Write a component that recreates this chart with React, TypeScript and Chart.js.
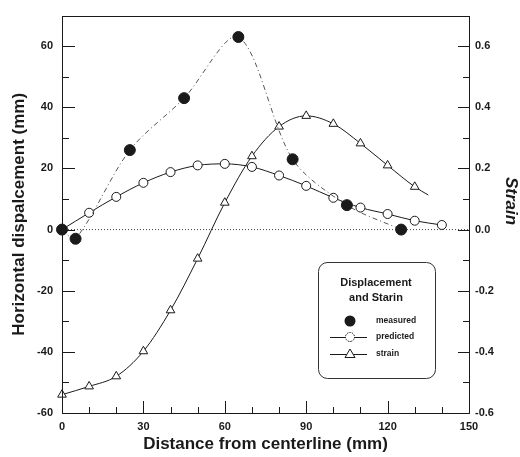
import React, { useEffect, useRef } from "react";
import { Chart, registerables } from "chart.js";

Chart.register(...registerables);

// ---- data ----
const measuredX = [0, 5, 25, 45, 65, 85, 105, 125];
const measuredY = [0, -3, 26, 43, 63, 23, 8, 0];

const predictedX = [0, 10, 20, 30, 40, 50, 60, 70, 80, 90, 100, 110, 120, 130, 140];
const predictedY = [0, 5.5, 10.7, 15.3, 18.8, 21, 21.5, 20.5, 17.7, 14.3, 10.4, 7.2, 5.1, 2.9, 1.5];

const strainX = [0, 10, 20, 30, 40, 50, 60, 70, 80, 90, 100, 110, 120, 130, 135];
const strainY = [-0.54, -0.513, -0.48, -0.398, -0.264, -0.095, 0.088, 0.24, 0.337, 0.372, 0.346, 0.282, 0.21, 0.14, 0.113];
const strainMarked = [true, true, true, true, true, true, true, true, true, true, true, true, true, true, false];

const zeroLineX = [0, 150];

const xMajorTicks = [0, 30, 60, 90, 120, 150];
const xMinorTicks = [10, 20, 40, 50, 70, 80, 100, 110, 130, 140];
const yMajorTicks = [-60, -40, -20, 0, 20, 40, 60];
const yMinorTicks = [-50, -30, -10, 10, 30, 50];
const y2MajorTicks = [-0.6, -0.4, -0.2, 0, 0.2, 0.4, 0.6];
const y2MinorTicks = [-0.5, -0.3, -0.1, 0.1, 0.3, 0.5];

const legendTitle = ["Displacement", "and Starin"];
const legendLabels = ["measured", "predicted", "strain"];
const rightTitle = "Strain";

const FONT = "'Liberation Sans', Arial, Helvetica, sans-serif";
const INK = "#1a1a1a";

const framePlugin = {
  id: "frameAndTicks",
  afterDatasetsDraw(chart: any) {
    const { ctx, chartArea, scales } = chart;
    const { left, right, top, bottom } = chartArea;
    ctx.save();
    ctx.strokeStyle = INK;
    ctx.lineWidth = 1;
    ctx.setLineDash([]);
    ctx.strokeRect(Math.round(left) + 0.5, Math.round(top) + 0.5, Math.round(right - left), Math.round(bottom - top));
    const vline = (px: number, len: number) => {
      const x = Math.round(px) + 0.5;
      ctx.beginPath();
      ctx.moveTo(x, bottom);
      ctx.lineTo(x, bottom - len);
      ctx.stroke();
    };
    xMajorTicks.forEach((v) => vline(scales.x.getPixelForValue(v), 12));
    xMinorTicks.forEach((v) => vline(scales.x.getPixelForValue(v), 6));
    const hl = (py: number, len: number) => {
      const y = Math.round(py) + 0.5;
      ctx.beginPath();
      ctx.moveTo(left, y);
      ctx.lineTo(left + len, y);
      ctx.stroke();
    };
    const hr = (py: number, len: number) => {
      const y = Math.round(py) + 0.5;
      ctx.beginPath();
      ctx.moveTo(right, y);
      ctx.lineTo(right - len, y);
      ctx.stroke();
    };
    yMajorTicks.forEach((v) => hl(scales.y.getPixelForValue(v), 13));
    yMinorTicks.forEach((v) => hl(scales.y.getPixelForValue(v), 7));
    y2MajorTicks.forEach((v) => hr(scales.y2.getPixelForValue(v), 11));
    y2MinorTicks.forEach((v) => hr(scales.y2.getPixelForValue(v), 6));
    ctx.restore();
  },
  afterDraw(chart: any) {
    const { ctx } = chart;
    ctx.save();
    // right axis title
    ctx.save();
    ctx.translate(511, 201);
    ctx.rotate(Math.PI / 2);
    ctx.fillStyle = INK;
    ctx.textAlign = "center";
    ctx.textBaseline = "middle";
    ctx.font = `italic bold 17px ${FONT}`;
    ctx.fillText(rightTitle, 0, 0);
    ctx.restore();
    // legend box
    const x0 = 318, y0 = 262, x1 = 435, y1 = 378, r = 9;
    ctx.strokeStyle = "#333";
    ctx.lineWidth = 1;
    ctx.beginPath();
    ctx.moveTo(x0 + r, y0 + 0.5);
    ctx.arcTo(x1 + 0.5, y0 + 0.5, x1 + 0.5, y1, r);
    ctx.arcTo(x1 + 0.5, y1 + 0.5, x0, y1 + 0.5, r);
    ctx.arcTo(x0 + 0.5, y1 + 0.5, x0 + 0.5, y0, r);
    ctx.arcTo(x0 + 0.5, y0 + 0.5, x1, y0 + 0.5, r);
    ctx.closePath();
    ctx.fillStyle = "#fff";
    ctx.fill();
    ctx.stroke();
    ctx.fillStyle = INK;
    ctx.textAlign = "center";
    ctx.textBaseline = "middle";
    ctx.font = `bold 11px ${FONT}`;
    ctx.fillText(legendTitle[0], 376, 283);
    ctx.fillText(legendTitle[1], 376, 298);
    const mx = 350, tx = 376;
    const rows = [321, 337, 354];
    ctx.font = `bold 8.5px ${FONT}`;
    ctx.textAlign = "left";
    legendLabels.forEach((t, i) => ctx.fillText(t, tx, rows[i]));
    // measured marker
    ctx.beginPath();
    ctx.arc(mx, rows[0], 5.5, 0, Math.PI * 2);
    ctx.fill();
    // predicted
    ctx.strokeStyle = INK;
    ctx.beginPath();
    ctx.moveTo(330, rows[1] + 0.5);
    ctx.lineTo(367, rows[1] + 0.5);
    ctx.stroke();
    ctx.beginPath();
    ctx.arc(mx, rows[1], 4.5, 0, Math.PI * 2);
    ctx.fillStyle = "#fff";
    ctx.fill();
    ctx.setLineDash([1.5, 1]);
    ctx.stroke();
    ctx.setLineDash([]);
    // strain
    ctx.beginPath();
    ctx.moveTo(330, rows[2] + 0.5);
    ctx.lineTo(367, rows[2] + 0.5);
    ctx.stroke();
    ctx.beginPath();
    ctx.moveTo(mx, rows[2] - 5);
    ctx.lineTo(mx + 5, rows[2] + 3.5);
    ctx.lineTo(mx - 5, rows[2] + 3.5);
    ctx.closePath();
    ctx.fill();
    ctx.stroke();
    ctx.restore();
  },
};

export default function App() {
  const ref = useRef<HTMLCanvasElement | null>(null);
  useEffect(() => {
    document.body.style.margin = "0";
    if (!ref.current) return;
    Chart.defaults.font.family = FONT;
    Chart.defaults.color = INK;
    const chart = new Chart(ref.current, {
      type: "line",
      data: {
        datasets: [
          {
            label: "zero",
            order: 3,
            data: zeroLineX.map((x) => ({ x, y: 0 })),
            borderColor: "#444",
            borderWidth: 1,
            borderDash: [1, 2],
            pointRadius: 0,
            yAxisID: "y",
          },
          {
            label: "strain",
            order: 2,
            data: strainX.map((x, i) => ({ x, y: strainY[i] })),
            borderColor: INK,
            borderWidth: 1,
            cubicInterpolationMode: "monotone",
            pointStyle: "triangle",
            pointRadius: strainMarked.map((m) => (m ? 5 : 0)),
            pointBackgroundColor: "#fff",
            pointBorderColor: INK,
            pointBorderWidth: 1,
            clip: false,
            yAxisID: "y2",
          },
          {
            label: "predicted",
            order: 1,
            data: predictedX.map((x, i) => ({ x, y: predictedY[i] })),
            borderColor: INK,
            borderWidth: 1,
            cubicInterpolationMode: "monotone",
            pointStyle: "circle",
            pointRadius: 4.5,
            pointBackgroundColor: "#fff",
            pointBorderColor: INK,
            pointBorderWidth: 1,
            clip: false,
            yAxisID: "y",
          },
          {
            label: "measured",
            order: 0,
            data: measuredX.map((x, i) => ({ x, y: measuredY[i] })),
            borderColor: "#555",
            borderWidth: 1,
            borderDash: [5, 3, 1, 3],
            tension: 0.3,
            pointStyle: "circle",
            pointRadius: 5.5,
            pointBackgroundColor: INK,
            pointBorderColor: INK,
            clip: false,
            yAxisID: "y",
          },
        ],
      },
      options: {
        animation: false,
        responsive: true,
        maintainAspectRatio: false,
        layout: { padding: { top: 13, left: 0, right: 0, bottom: 0 } },
        plugins: { legend: { display: false }, tooltip: { enabled: false } },
        scales: {
          x: {
            type: "linear",
            min: 0,
            max: 150,
            grid: { display: false, drawTicks: false },
            border: { display: false },
            afterBuildTicks: (s: any) => {
              s.ticks = xMajorTicks.map((v) => ({ value: v }));
            },
            afterFit: (s: any) => {
              s.height = 44;
            },
            ticks: { padding: 7, font: { size: 11, weight: "bold" }, color: INK },
            title: {
              display: true,
              text: "Distance from centerline (mm)",
              font: { size: 17, weight: "bold" },
              color: INK,
              padding: { top: 0, bottom: 2 },
            },
          },
          y: {
            type: "linear",
            position: "left",
            min: -60,
            max: 70,
            grid: { display: false, drawTicks: false },
            border: { display: false },
            afterBuildTicks: (s: any) => {
              s.ticks = yMajorTicks.map((v) => ({ value: v }));
            },
            afterFit: (s: any) => {
              s.width = 62;
            },
            ticks: { padding: 9, font: { size: 11, weight: "bold" }, color: INK },
            title: {
              display: true,
              text: "Horizontal dispalcement (mm)",
              font: { size: 17, weight: "bold" },
              color: INK,
              padding: { top: 9, bottom: 0 },
            },
          },
          y2: {
            type: "linear",
            position: "right",
            min: -0.6,
            max: 0.7,
            grid: { display: false, drawTicks: false },
            border: { display: false },
            afterBuildTicks: (s: any) => {
              s.ticks = y2MajorTicks.map((v) => ({ value: v }));
            },
            afterFit: (s: any) => {
              s.width = 51;
            },
            ticks: {
              padding: 6,
              font: { size: 11, weight: "bold" },
              color: INK,
              callback: (v: any) => Number(v).toFixed(1),
            },
            title: { display: false },
          },
        },
      },
      plugins: [framePlugin],
    } as any);
    return () => chart.destroy();
  }, []);
  return (
    <div style={{ position: "relative", width: 520, height: 457 }}>
      <canvas ref={ref} />
    </div>
  );
}
